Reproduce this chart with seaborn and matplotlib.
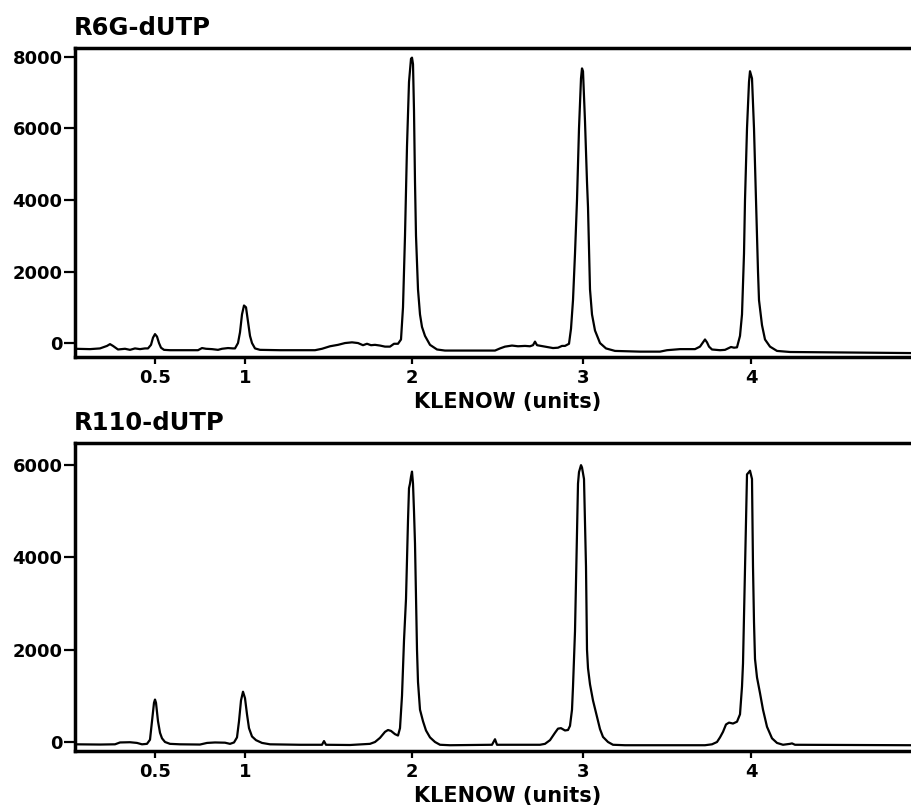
import matplotlib
matplotlib.use("Agg")
import matplotlib.pyplot as plt
import pandas as pd
import seaborn as sns

# Klenow amounts marked along the scan axis
klenow_pos = [155, 245, 412, 583, 751]
klenow_labels = ["0.5", "1", "2", "3", "4"]

# R6G-dUTP trace (scan position, fluorescence)
r6g_scan = [75, 90, 100, 107, 110, 113, 118, 125, 130, 135, 140, 145,
            148, 151, 153, 155, 157, 159, 161, 164, 170, 185, 198, 202,
            206, 212, 218, 222, 228, 233, 235, 238, 240, 242, 244, 246,
            248, 250, 252, 255, 260, 280, 300, 315, 322, 330, 338, 345,
            352, 358, 363, 367, 371, 375, 380, 385, 390, 394, 398, 401,
            403, 405, 407, 409, 411, 412, 413, 414, 415, 416, 418, 420,
            422, 425, 430, 437, 445, 470, 495, 500, 505, 512, 518, 525,
            530, 533, 535, 537, 545, 553, 558, 562, 565, 569, 571, 573,
            575, 577, 579, 581, 582, 583, 585, 587, 588, 590, 592, 595,
            600, 606, 615, 640, 660, 667, 680, 695, 700, 703, 705, 707,
            709, 712, 720, 725, 731, 734, 737, 740, 742, 744, 745, 747,
            749, 750, 752, 754, 756, 758, 759, 762, 765, 770, 777, 790,
            911]
r6g_signal = [-160, -170, -150, -80, -30, -80, -180, -160, -190, -150, -170, -150,
              -150, -50, 150, 250, 180, 0, -130, -190, -200, -200, -200, -140,
              -160, -170, -190, -160, -140, -150, -150, 0, 300, 800, 1050, 1000,
              600, 200, 0, -150, -190, -200, -200, -200, -160, -90, -50, 0,
              20, 0, -60, -20, -60, -50, -70, -100, -100, -20, -20, 100,
              1000, 3000, 5500, 7300, 7950, 7980, 7800, 6500, 4500, 3000, 1500, 800,
              450, 200, -50, -180, -210, -210, -210, -150, -100, -70, -90, -80,
              -90, -60, 40, -60, -100, -140, -130, -80, -80, -20, 400, 1200,
              2500, 4000, 6000, 7400, 7680, 7600, 6200, 4500, 3800, 1500, 800, 350,
              0, -150, -220, -240, -240, -200, -170, -170, -100, 20, 100, 20,
              -100, -180, -200, -190, -110, -130, -120, 200, 800, 2500, 4000, 6000,
              7300, 7600, 7400, 6000, 4000, 2000, 1200, 500, 100, -100, -220, -250,
              -280]

# R110-dUTP trace (scan position, fluorescence)
r110_scan = [75, 100, 115, 120, 130, 137, 142, 147, 150, 152, 154, 155,
             156, 158, 160, 162, 165, 170, 180, 200, 207, 215, 225, 230,
             234, 237, 239, 241, 243, 245, 247, 249, 252, 256, 262, 270,
             300, 322, 324, 326, 350, 370, 375, 380, 385, 388, 391, 395,
             398, 400, 402, 404, 406, 408, 409, 410, 411, 412, 413, 414,
             415, 416, 417, 418, 420, 423, 426, 430, 435, 440, 450, 492,
             495, 497, 540, 545, 550, 555, 558, 561, 565, 568, 570, 572,
             573, 574, 575, 577, 578, 579, 581, 582, 584, 585, 586, 587,
             588, 590, 593, 597, 600, 603, 608, 613, 625, 705, 712, 717,
             720, 723, 726, 729, 733, 737, 740, 742, 743, 745, 747, 749,
             750, 752, 753, 754, 755, 757, 760, 763, 767, 772, 777, 783,
             790, 792, 795, 911]
r110_signal = [-50, -55, -50, -10, -5, -20, -50, -40, 50, 450, 850, 920,
               850, 450, 200, 80, 0, -40, -50, -55, -20, -10, -15, -40,
               -10, 100, 450, 900, 1090, 950, 600, 300, 120, 40, -20, -50,
               -60, -60, 20, -60, -65, -40, 0, 90, 220, 260, 240, 170,
               140, 300, 1000, 2200, 3100, 4800, 5500, 5600, 5750, 5860, 5600, 5000,
               4300, 3100, 2000, 1300, 700, 450, 250, 100, 0, -60, -70, -60,
               60, -60, -60, -40, 40, 200, 290, 300, 250, 260, 350, 700,
               1200, 1800, 2400, 4500, 5600, 5850, 6000, 5950, 5700, 4800, 3800, 2000,
               1600, 1250, 900, 540, 280, 110, 0, -60, -70, -70, -50, 0,
               100, 220, 380, 420, 400, 440, 600, 1200, 1700, 3800, 5800, 5850,
               5880, 5700, 3800, 2600, 1800, 1400, 1060, 700, 330, 80, -20, -60,
               -40, -30, -60, -70]

sns.set_style("ticks")
plt.rcParams["font.family"] = ["DejaVu Sans"]
plt.rcParams["font.weight"] = "bold"
plt.rcParams["text.color"] = "black"
plt.rcParams["axes.labelcolor"] = "black"
plt.rcParams["xtick.color"] = "black"
plt.rcParams["ytick.color"] = "black"

W, H = 911, 811
fig = plt.figure(figsize=(W / 100, H / 100), dpi=100)
ax_top = fig.add_axes([75 / W, 1 - 357 / H, 836 / W, 309 / H])
ax_bot = fig.add_axes([75 / W, 1 - 751 / H, 836 / W, 308 / H])

panels = [
    (ax_top, r6g_scan, r6g_signal, "R6G-dUTP", (-390, 8250), [0, 2000, 4000, 6000, 8000], 309),
    (ax_bot, r110_scan, r110_signal, "R110-dUTP", (-195, 6480), [0, 2000, 4000, 6000], 308),
]

for ax, scan, signal, title, ylim, yticks, hpx in panels:
    df = pd.DataFrame({"scan": scan, "signal": signal})
    sns.lineplot(data=df, x="scan", y="signal", ax=ax, color="black",
                 lw=1.6, sort=False, estimator=None)
    ax.set_xlim(75, 911)
    ax.set_ylim(*ylim)
    ax.set_yticks(yticks)
    ax.set_xticks(klenow_pos)
    ax.set_xticklabels(klenow_labels)
    ax.set_ylabel("")
    ax.set_xlabel("KLENOW (units)", fontsize=15, fontweight="bold", color="black")
    ax.xaxis.set_label_coords(0.518, -35 / hpx)
    ax.tick_params(axis="y", length=8, width=1.6, pad=1, labelsize=13,
                   colors="black", labelcolor="black")
    ax.tick_params(axis="x", length=5, width=1.6, pad=3.5, labelsize=13,
                   colors="black", labelcolor="black")
    for side in ["left", "bottom", "top"]:
        ax.spines[side].set_linewidth(2.5)
        ax.spines[side].set_color("black")
    ax.spines["right"].set_visible(False)
    ax.text(-0.002, 1 + 13 / hpx, title, transform=ax.transAxes, color="black",
            fontsize=17.5, fontweight="bold", ha="left", va="baseline")

fig.savefig("out.png", dpi=100)
